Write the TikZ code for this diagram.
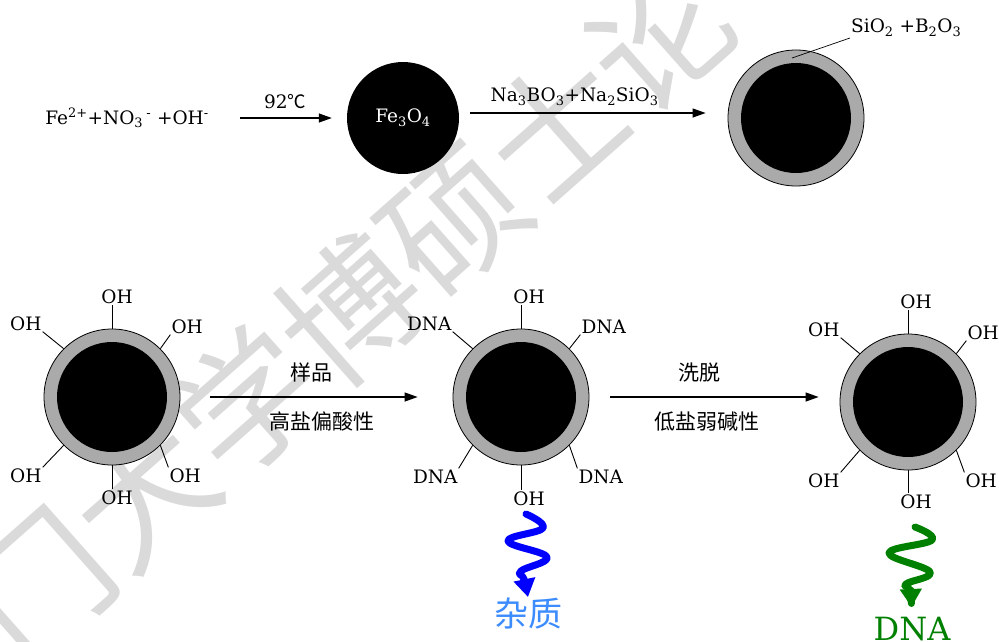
\documentclass[tikz,border=0pt]{standalone}
\usepackage{fontspec}
\setmainfont{DejaVu Serif}
\newfontfamily\cjk{Noto Sans CJK SC}
\usetikzlibrary{positioning,arrows.meta}

\definecolor{shellgray}{RGB}{170,170,170}
\definecolor{impblue}{RGB}{0,0,255}
\definecolor{implabel}{RGB}{60,140,255}
\definecolor{dnagreen}{RGB}{0,128,0}
\definecolor{markgray}{RGB}{218,218,218}

\begin{document}
\begin{tikzpicture}[x=1pt,y=1pt,>={Triangle[length=13pt,width=9pt]},
    formula/.style={font=\fontsize{18.5}{22}\selectfont,inner sep=1pt},
    cn/.style={font=\cjk\fontsize{21}{25}\selectfont,inner sep=1pt},
    shell/.style={circle,draw=black,line width=0.8pt,fill=shellgray,
      minimum size=136pt,inner sep=0pt,
      path picture={\fill[black] (path picture bounding box.center) circle (55pt);}},
    spoke/.style={line width=0.9pt},
    react arrow/.style={->,line width=1.2pt},
    wiggle/.style={line width=7pt,line cap=round,line join=round,
      -{Triangle[length=18pt,width=21pt]}}]

  \useasboundingbox (0,0) rectangle (999,-641);

  % background mark
  \begin{scope}
    \clip (0,0) rectangle (999,-641);
    \node[rotate=41.5,text=markgray,inner sep=0pt,
      font=\cjk\fontsize{138}{138}\selectfont] (mark) at (350,-310) {门大学博硕士论};
  \end{scope}

  % synthesis of the coated particle
  \node[formula] (ions) at (127,-118)
    {Fe\textsuperscript{2+}+NO\textsubscript{3}\,\textsuperscript{-} +OH\textsuperscript{-}};
  \node[formula,circle,fill=black,minimum size=112pt,text=white] (fe) at (403,-118)
    {Fe\textsubscript{3}O\textsubscript{4}};
  \node[shell] (coat) at (796,-118) {};
  \node[formula,anchor=west] (coatlbl) at (850,-28)
    {SiO\textsubscript{2} +B\textsubscript{2}O\textsubscript{3}};
  \coordinate (ring) at (792,-58);

  \draw[line width=0.7pt] (ring) -- (coatlbl.south west);
  \draw[react arrow,shorten <=30pt,shorten >=15pt] (ions.east) -- (fe.west)
    node[pos=0.55,above=8pt,formula] {92{\cjk ℃}};
  \draw[react arrow,shorten <=11pt,shorten >=22pt] ([yshift=5pt]fe.east) -- ([yshift=5pt]coat.west)
    node[pos=0.43,above=6pt,formula]
    {Na\textsubscript{3}BO\textsubscript{3}+Na\textsubscript{2}SiO\textsubscript{3}};

  % bare particle with hydroxyl groups
  \node[shell] (bare) at (112,-397) {};
  \node[formula] (bareN)  [above=24pt of bare,xshift=5pt] {OH};
  \node[formula] (bareNW) [above left=17pt and 21pt of bare] {OH};
  \node[formula] (bareNE) [above right=14pt and 10pt of bare] {OH};
  \node[formula] (bareSW) [below left=22pt and 21pt of bare] {OH};
  \node[formula] (bareSE) [below right=22pt and 8pt of bare] {OH};
  \node[formula] (bareS)  [below=24pt of bare,xshift=5pt] {OH};
  \path[spoke] (bare.north) edge (bare.north |- bareN.south)
               (bare.north west) edge (bareNW.south east)
               (bare.north east) edge (bareNE.south west)
               (bare.south west) edge (bareSW.north east)
               (bare.south east) edge (bareSE.north west)
               (bare.south) edge (bare.south |- bareS.north);

  % particle after binding
  \node[shell] (bound) at (521,-397) {};
  \node[formula] (boundN)  [above=24pt of bound,xshift=8pt] {OH};
  \node[formula] (boundNW) [above left=17pt and 20pt of bound] {DNA};
  \node[formula] (boundNE) [above right=14pt and 11pt of bound] {DNA};
  \node[formula] (boundSW) [below left=23pt and 14pt of bound] {DNA};
  \node[formula] (boundSE) [below right=23pt and 8pt of bound] {DNA};
  \node[formula] (boundS)  [below=25pt of bound,xshift=8pt] {OH};
  \path[spoke] (bound.north) edge (bound.north |- boundN.south)
               (bound.north west) edge (boundNW.south east)
               (bound.north east) edge (boundNE.south west)
               (bound.south west) edge (boundSW.north east)
               (bound.south east) edge (boundSE.north west)
               (bound.south) edge (bound.south |- boundS.north);

  % particle after elution
  \node[shell] (clean) at (908,-402) {};
  \node[formula] (cleanN)  [above=24pt of clean,xshift=8pt] {OH};
  \node[formula] (cleanNW) [above left=16pt and 19pt of clean] {OH};
  \node[formula] (cleanNE) [above right=13pt and 10pt of clean] {OH};
  \node[formula] (cleanSW) [below left=22pt and 19pt of clean] {OH};
  \node[formula] (cleanSE) [below right=22pt and 8pt of clean] {OH};
  \node[formula] (cleanS)  [below=23pt of clean,xshift=8pt] {OH};
  \path[spoke] (clean.north) edge (clean.north |- cleanN.south)
               (clean.north west) edge (cleanNW.south east)
               (clean.north east) edge (cleanNE.south west)
               (clean.south west) edge (cleanSW.north east)
               (clean.south east) edge (cleanSE.north west)
               (clean.south) edge (clean.south |- cleanS.north);

  % binding and elution steps
  \draw[react arrow,shorten <=30pt,shorten >=35pt] (bare.east) -- (bound.west)
    node[pos=0.48,above=13pt,cn] {样品}
    node[pos=0.52,below=13pt,cn] {高盐偏酸性};
  \draw[react arrow,shorten <=21pt,shorten >=21pt] (bound.east) -- (bound.east -| clean.west)
    node[pos=0.44,above=13pt,cn] {洗脱}
    node[pos=0.47,below=13pt,cn] {低盐弱碱性};

  % released species
  \node[font=\cjk\fontsize{34}{34}\selectfont,text=implabel,inner sep=1pt,anchor=north]
    (junk) at (528,-597) {杂质};
  \node[font=\fontsize{32}{32}\selectfont,text=dnagreen,inner sep=1pt,anchor=north]
    (dna) at (912,-616) {DNA};
  \draw[wiggle,impblue] plot[smooth,tension=0.7]
    coordinates {(526,-514) (543,-528) (508,-541) (547,-557) (521,-571) (524,-579) (junk.north)};
  \draw[wiggle,dnagreen,shorten >=9pt] plot[smooth,tension=0.7]
    coordinates {(915,-527) (932,-540) (889,-553) (930,-572) (906,-584) (910,-591) (dna.north)};
\end{tikzpicture}
\end{document}
